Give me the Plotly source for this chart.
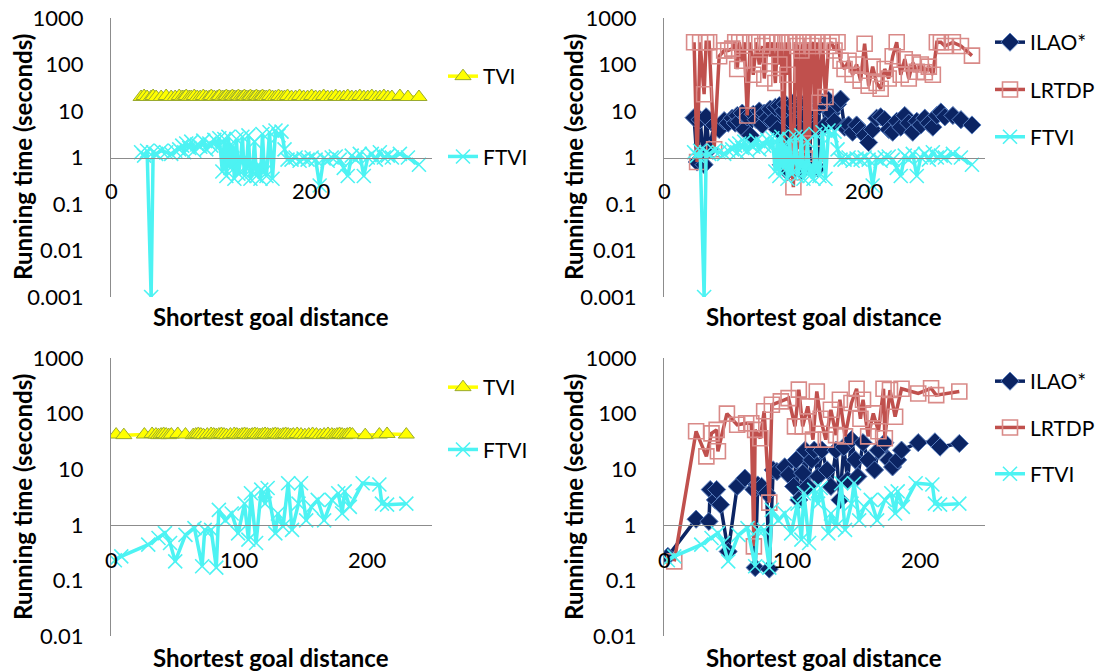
import plotly.graph_objects as go

# ---------------- Top row data (shared x) ----------------
x_top = [30, 33, 36, 40, 42, 45, 50, 55, 60, 64,
         68, 71, 73, 75, 78, 80, 83, 86, 89, 92, 95, 98, 100, 103, 106, 108,
         111, 113, 115, 117, 119, 121, 123, 125, 127, 129, 131, 133, 135, 137, 139,
         141, 143, 145, 147, 149, 151, 153, 155, 158, 161, 164, 167, 170, 173, 176,
         180, 184, 188, 192, 196, 200, 204, 208, 212, 216, 220, 224, 228, 232, 236,
         240, 244, 248, 252, 256, 260, 264, 268, 272, 276, 280, 288, 296, 307]

tvi_top = [20, 21, 20, 20, 21, 20, 20, 21, 20, 20,
           21, 20, 20, 21, 20, 20, 21, 20, 20, 21, 20, 20, 21, 20, 20, 21,
           20, 20, 21, 20, 20, 21, 20, 20, 21, 20, 20, 21, 20, 20, 21,
           20, 20, 21, 20, 20, 21, 20, 20, 21, 20, 20, 21, 20, 20, 21,
           20, 20, 21, 20, 20, 21, 20, 20, 21, 20, 20, 21, 20, 20, 21,
           20, 20, 21, 20, 20, 21, 20, 20, 21, 20, 20, 21, 20, 20]

ftvi_top = [1.3, 1.1, 1.4, 0.001, 1.3, 1.2, 1.4, 1.3, 1.2, 1.4,
            1.5, 1.8, 1.3, 2.0, 1.6, 2.2, 1.4, 1.9, 1.7, 2.3, 1.5, 2.0, 1.8, 2.4, 1.6, 2.6,
            0.5, 2.5, 0.4, 2.8, 0.6, 1.8, 0.35, 2.5, 0.45, 0.8, 2.8, 0.4, 0.6, 3.0, 0.35,
            0.5, 2.2, 0.4, 0.7, 0.35, 3.2, 0.5, 0.4, 3.5, 0.35, 3.8, 3.0, 3.6, 1.5, 0.9,
            0.9, 1.0, 0.85, 0.95, 0.9, 1.0, 0.9, 0.25, 0.95, 0.85, 1.0, 1.05, 0.9, 0.6, 0.4,
            1.1, 0.9, 1.2, 0.4, 1.0, 1.2, 0.9, 1.3, 1.0, 1.1, 1.0, 1.2, 1.0, 0.7]

ilao_top = [7.2, 0.8, 6.5, 0.7, 7.5, 1.5, 5.0, 4.0, 6.2, 5.5,
            7.0, 5.5, 8.0, 6.0, 9.0, 4.0, 7.5, 3.0, 8.5, 6.5, 10, 5.0, 9.0, 7.0, 11, 6.0,
            12, 4.0, 13, 0.7, 10, 14, 0.5, 12, 6, 15, 0.6, 11, 13, 0.5, 14,
            8, 15, 0.7, 12, 4, 16, 0.6, 13, 15, 5, 17, 9, 6, 14, 18,
            4.5, 5.0, 3.5, 5.0, 4.0, 3.0, 2.1, 4.0, 7.0, 7.5, 6.5, 4.0, 3.5, 6.0, 4.5,
            8.0, 5.5, 3.5, 6.0, 5.0, 7.0, 5.5, 4.5, 8.0, 9.5, 7.5, 8.0, 6.5, 5.0]

lrtdp_top = [300, 0.8, 300, 23, 300, 300, 1.5, 150, 200, 200,
             220, 300, 80, 300, 120, 300, 8.0, 300, 60, 300, 100, 250, 50, 300, 150, 300,
             40, 300, 100, 300, 1.0, 300, 60, 300, 0.8, 0.23, 300, 250, 1.5, 200, 300,
             0.9, 300, 2.0, 250, 300, 1.2, 300, 15, 300, 20, 250, 300, 200, 300, 120,
             80, 120, 60, 100, 45, 280, 35, 90, 40, 30, 80, 50, 150, 300, 60,
             130, 50, 110, 70, 100, 68, 90, 60, 300, 300, 250, 300, 250, 155]

# ---------------- Bottom row data ----------------
x_tvi_b = [4, 10, 26, 32, 35, 37, 39, 41, 43, 45, 47, 52, 58, 64, 66, 68, 70, 72, 75, 78,
           80, 82, 84, 86, 88, 90, 93, 96, 98, 100, 102, 104, 106, 108, 110, 112, 114, 116, 118, 120,
           122, 124, 126, 128, 130, 132, 134, 136, 138, 140, 142, 145, 148, 151, 154, 157, 160, 163, 166, 169,
           172, 174, 176, 178, 180, 182, 184, 186, 188, 198, 209, 215, 230]
tvi_b = [42, 41, 42, 43, 42, 41, 42, 43, 42, 41, 42, 43, 42, 41, 42, 43, 42, 41, 42, 43,
         42, 41, 42, 43, 42, 41, 42, 43, 42, 41, 42, 43, 42, 41, 42, 43, 42, 41, 42, 43,
         42, 41, 42, 43, 42, 41, 42, 43, 42, 41, 42, 43, 42, 41, 42, 43, 42, 41, 42, 43,
         42, 41, 42, 43, 42, 41, 42, 43, 42, 41, 42, 43, 42]

x_ftvi_b = [3, 8, 29, 37, 42, 46, 50, 58, 65, 71, 73, 78, 82, 84, 89, 94, 99, 104, 107, 109,
            113, 117, 120, 122, 128, 130, 134, 138, 141, 146, 148, 152, 156, 161, 166, 172, 177, 180, 182, 186,
            196, 209, 211, 215, 230]
ftvi_b = [0.23, 0.27, 0.44, 0.58, 0.71, 0.47, 0.22, 0.66, 0.87, 0.18, 0.81, 0.81, 0.17, 1.86, 1.2, 1.6, 0.7, 2.4, 0.54, 3.7,
          0.47, 4.3, 2.4, 4.6, 0.7, 1.6, 0.93, 5.6, 0.81, 2.4, 5.6, 1.2, 2.1, 2.8, 1.2, 2.8, 3.7, 1.6, 4.0, 2.1,
          5.6, 5.3, 2.4, 2.3, 2.4]

x_ilao_b = [3, 25, 35, 36, 40, 41, 44, 50, 57, 63, 70, 71, 73, 76, 80, 82, 85, 88, 94, 97,
            101, 103, 105, 108, 110, 112, 115, 117, 120, 123, 127, 130, 134, 137, 140, 143, 146, 149, 151, 155,
            159, 164, 167, 172, 175, 178, 182, 185, 198, 211, 215, 230]
ilao_b = [0.27, 1.26, 1.15, 4.3, 2.8, 4.3, 2.3, 0.33, 4.9, 6.9, 4.3, 0.17, 5.2, 4.9, 3.7, 0.16, 9.7, 9.1, 11, 7.9,
          4.9, 14.7, 2.8, 8.5, 22, 4.9, 14.7, 22, 7.4, 22, 9.7, 4.9, 22, 2.8, 25, 6.4, 34, 14.7, 7.4, 30,
          14.7, 9.7, 22, 30, 14.7, 11, 14.7, 22, 30, 31, 25, 29]

x_lrtdp_b = [8, 25, 33, 37, 41, 42, 49, 57, 64, 68, 70, 71, 75, 78, 82, 84, 91, 97, 102, 105,
             108, 112, 116, 119, 122, 126, 130, 134, 137, 141, 146, 150, 153, 155, 159, 163, 167, 171, 172, 176,
             180, 185, 198, 208, 212, 230]
lrtdp_b = [0.22, 48, 17, 44, 51, 21, 100, 63, 67, 67, 0.41, 51, 36, 110, 2.5, 144, 166, 190, 59, 270,
           59, 135, 34, 250, 81, 34, 117, 41, 178, 39, 155, 280, 81, 178, 39, 101, 48, 280, 36, 265,
           88, 280, 230, 285, 215, 250]

y_tickvals = [0.001, 0.01, 0.1, 1, 10, 100, 1000]
y_ticktext = ["0.001", "0.01", "0.1", "1", "10", "100", "1000"]
x_ticks_top = [0, 200]
x_ticks_bot = [0, 100, 200]

FONT = "Lato"
C_TVI_LINE = "#FFFF00"
C_TVI_EDGE = "#9AAA2E"
C_FTVI = "#4DF3F3"
C_ILAO = "#0B2463"
C_ILAO_EDGE = "#5A7FBF"
C_LRTDP = "#C0504D"
C_LRTDP_EDGE = "#D98A88"
LW = 3.5


def tvi(x, y, xa, ya, leg):
    return go.Scatter(x=x, y=y, xaxis=xa, yaxis=ya, mode="lines+markers", name="TVI",
                      legend=leg, legendgroup=leg + "a",
                      line=dict(color=C_TVI_LINE, width=LW),
                      marker=dict(symbol="triangle-up", size=14, color=C_TVI_LINE,
                                  line=dict(color=C_TVI_EDGE, width=1)))


def ftvi(x, y, xa, ya, leg):
    return go.Scatter(x=x, y=y, xaxis=xa, yaxis=ya, mode="lines+markers", name="FTVI",
                      legend=leg, legendgroup=leg + "z",
                      line=dict(color=C_FTVI, width=LW),
                      marker=dict(symbol="x-thin", size=14, color=C_FTVI,
                                  line=dict(color=C_FTVI, width=1.6)))


def ilao(x, y, xa, ya, leg):
    return go.Scatter(x=x, y=y, xaxis=xa, yaxis=ya, mode="lines+markers", name="ILAO*",
                      legend=leg, legendgroup=leg + "b",
                      line=dict(color=C_ILAO, width=LW),
                      marker=dict(symbol="diamond", size=14, color=C_ILAO,
                                  line=dict(color=C_ILAO_EDGE, width=1)))


def lrtdp(x, y, xa, ya, leg):
    return go.Scatter(x=x, y=y, xaxis=xa, yaxis=ya, mode="lines+markers", name="LRTDP",
                      legend=leg, legendgroup=leg + "c",
                      line=dict(color=C_LRTDP, width=LW),
                      marker=dict(symbol="square-open", size=15, color=C_LRTDP_EDGE,
                                  line=dict(color=C_LRTDP_EDGE, width=1.6)))


fig = go.Figure()
# top-left
fig.add_trace(tvi(x_top, tvi_top, "x", "y", "legend"))
fig.add_trace(ftvi(x_top, ftvi_top, "x", "y", "legend"))
# top-right
fig.add_trace(ilao(x_top, ilao_top, "x2", "y2", "legend2"))
fig.add_trace(lrtdp(x_top, lrtdp_top, "x2", "y2", "legend2"))
fig.add_trace(ftvi(x_top, ftvi_top, "x2", "y2", "legend2"))
# bottom-left
fig.add_trace(tvi(x_tvi_b, tvi_b, "x3", "y3", "legend3"))
fig.add_trace(ftvi(x_ftvi_b, ftvi_b, "x3", "y3", "legend3"))
# bottom-right
fig.add_trace(ilao(x_ilao_b, ilao_b, "x4", "y4", "legend4"))
fig.add_trace(lrtdp(x_lrtdp_b, lrtdp_b, "x4", "y4", "legend4"))
fig.add_trace(ftvi(x_ftvi_b, ftvi_b, "x4", "y4", "legend4"))

W, H = 1102, 671
left_dom = [111 / W, 432 / W]
right_dom = [664 / W, 985 / W]
top_dom = [1 - 297 / H, 1 - 18 / H]
bot_dom = [1 - 636 / H, 1 - 358 / H]
top_cross = top_dom[0] + (top_dom[1] - top_dom[0]) * 0.5
bot_cross = bot_dom[0] + (bot_dom[1] - bot_dom[0]) * 0.4

tickfont = dict(family=FONT, size=22, color="black")
AXC = "#8C8C8C"


def xax(dom, anchor_pos, rng, dtick):
    return dict(domain=dom, range=rng, anchor="free", position=anchor_pos,
                showline=True, linecolor=AXC, linewidth=1.3, showgrid=False, zeroline=False,
                tick0=0, dtick=dtick, ticks="", showticklabels=False, automargin=False)


def yax(dom, rng, xanchor):
    return dict(domain=dom, type="log", range=rng, anchor=xanchor,
                showline=True, linecolor=AXC, linewidth=1.3, showgrid=False, zeroline=False,
                tickvals=y_tickvals, ticktext=y_ticktext, ticks="", tickfont=tickfont,
                ticklabelstandoff=22, automargin=False)


leg_common = dict(xanchor="left", yanchor="top", bgcolor="rgba(0,0,0,0)",
                  font=dict(family=FONT, size=21, color="black"), itemwidth=30,
                  traceorder="grouped")

fig.update_layout(
    width=W, height=H, margin=dict(l=0, r=0, t=0, b=0, autoexpand=False),
    plot_bgcolor="white", paper_bgcolor="white",
    font=dict(family=FONT, color="black"),
    xaxis=xax(left_dom, top_cross, [0, 320], 200),
    yaxis=yax(top_dom, [-3, 3], "x"),
    xaxis2=xax(right_dom, top_cross, [0, 320], 200),
    yaxis2=yax(top_dom, [-3, 3], "x2"),
    xaxis3=xax(left_dom, bot_cross, [0, 250], 100),
    yaxis3=yax(bot_dom, [-2, 3], "x3"),
    xaxis4=xax(right_dom, bot_cross, [0, 250], 100),
    yaxis4=yax(bot_dom, [-2, 3], "x4"),
    legend=dict(x=443 / W, y=1 - 56 / H, tracegroupgap=50, **leg_common),
    legend2=dict(x=990 / W, y=1 - 22 / H, tracegroupgap=17, **leg_common),
    legend3=dict(x=443 / W, y=1 - 367 / H, tracegroupgap=32, **leg_common),
    legend4=dict(x=990 / W, y=1 - 361 / H, tracegroupgap=16, **leg_common),
    showlegend=True,
)

title_font = dict(family=FONT, size=24, color="black")
ann = []
for cx in (271, 824):
    for cy in (317, 657):
        ann.append(dict(text="<b>Shortest goal distance</b>", x=cx / W, y=1 - cy / H,
                        xref="paper", yref="paper", showarrow=False, font=title_font,
                        xanchor="center", yanchor="middle"))
for cx in (22, 573):
    for cy in (157, 497):
        ann.append(dict(text="<b>Running time (seconds)</b>", x=cx / W, y=1 - cy / H,
                        xref="paper", yref="paper", showarrow=False, font=title_font,
                        textangle=-90, xanchor="center", yanchor="middle"))
# x tick labels placed just under the y=1 crossing line
for xa, ya, ticks, shift in (("x", "y", x_ticks_top, -33), ("x2", "y2", x_ticks_top, -33),
                             ("x3", "y3", x_ticks_bot, -35), ("x4", "y4", x_ticks_bot, -35)):
    for t in ticks:
        ann.append(dict(text=str(t), x=t, y=0, xref=xa, yref=ya, showarrow=False,
                        font=tickfont, xanchor="center", yanchor="middle", yshift=shift))
fig.update_layout(annotations=ann)

fig.write_html("out.html", config={"displayModeBar": False},
               post_script="document.body.style.margin='0px';")
